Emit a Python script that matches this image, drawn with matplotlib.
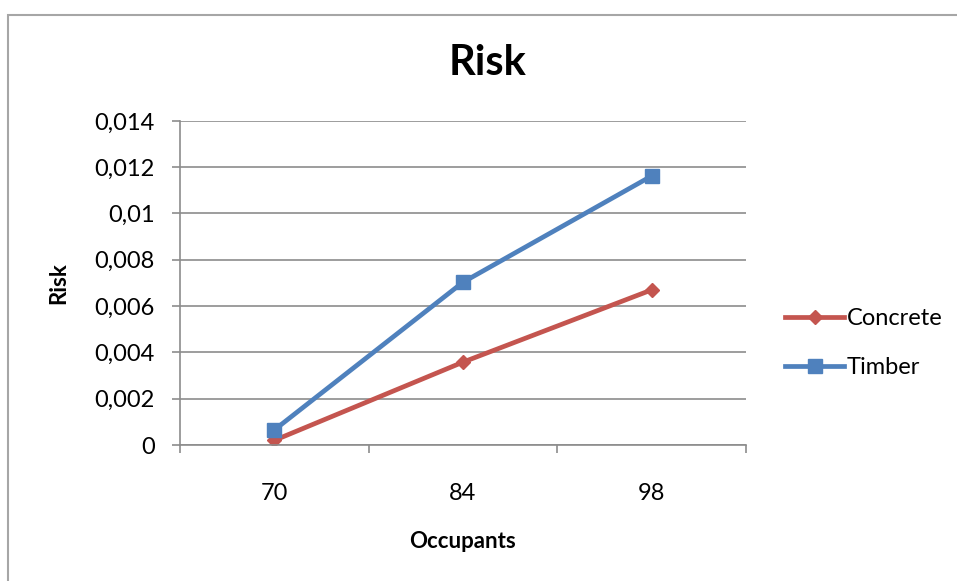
import matplotlib.pyplot as plt
from matplotlib.patches import Rectangle

# risk values per occupant count
occupants = ['70', '84', '98']
concrete = [0.0002, 0.00358, 0.0067]
timber = [0.00065, 0.00703, 0.01162]
yticks = [0, 0.002, 0.004, 0.006, 0.008, 0.01, 0.012, 0.014]
ytick_labels = ['0', '0,002', '0,004', '0,006', '0,008', '0,01', '0,012', '0,014']

plt.rcParams['font.family'] = ['Lato', 'DejaVu Sans']

fig = plt.figure(figsize=(9.57, 5.81), dpi=100)
ax = fig.add_axes([0.188, 0.234, 0.5915, 0.558])

# outer chart frame
fig.patches.append(Rectangle((8 / 957, -0.05), 1.0, 1 - 15 / 581 + 0.05,
                             transform=fig.transFigure, fill=False,
                             edgecolor='#a6a6a6', linewidth=1.5))

x = list(range(len(occupants)))
ax.plot(x, concrete, color='#c4554f', linewidth=3.4, marker='D',
        markersize=7, label='Concrete')
ax.plot(x, timber, color='#4f81bd', linewidth=3.4, marker='s',
        markersize=10, label='Timber')

ax.set_xlim(-0.5, 2.5)
ax.set_ylim(0, 0.014)
ax.set_yticks(yticks)
ax.set_yticklabels(ytick_labels, fontsize=17)
ax.yaxis.grid(True, color='#8c8c8c', linewidth=1.2)
ax.set_axisbelow(True)

# category labels without marks, tick marks between categories
ax.set_xticks([-0.5, 0.5, 1.5, 2.5])
ax.set_xticklabels([])
ax.set_xticks(x, minor=True)
ax.set_xticklabels(occupants, minor=True, fontsize=17)
ax.tick_params(axis='x', which='major', length=6, width=1.2, color='#8c8c8c')
ax.tick_params(axis='x', which='minor', length=0, pad=27)
ax.tick_params(axis='y', length=6, width=1.2, color='#8c8c8c', pad=12)

for side in ['top', 'right']:
    ax.spines[side].set_visible(False)
for side in ['left', 'bottom']:
    ax.spines[side].set_color('#8c8c8c')
    ax.spines[side].set_linewidth(1.2)

# chart title sits centred over the whole chart, not the plot area
fig.text(488 / 957, 1 - 63 / 581, 'Risk', fontsize=30, fontweight='bold',
         ha='center', va='center')
ax.set_xlabel('Occupants', fontsize=16, fontweight='bold', labelpad=20)
ax.set_ylabel('Risk', fontsize=16, fontweight='bold', labelpad=18)

ax.legend(loc='center left', bbox_to_anchor=(1.032, 0.314), frameon=False,
          fontsize=17, handlelength=2.5, handletextpad=0.1, labelspacing=1.18)

fig.savefig('out.png', dpi=100, facecolor='white')
